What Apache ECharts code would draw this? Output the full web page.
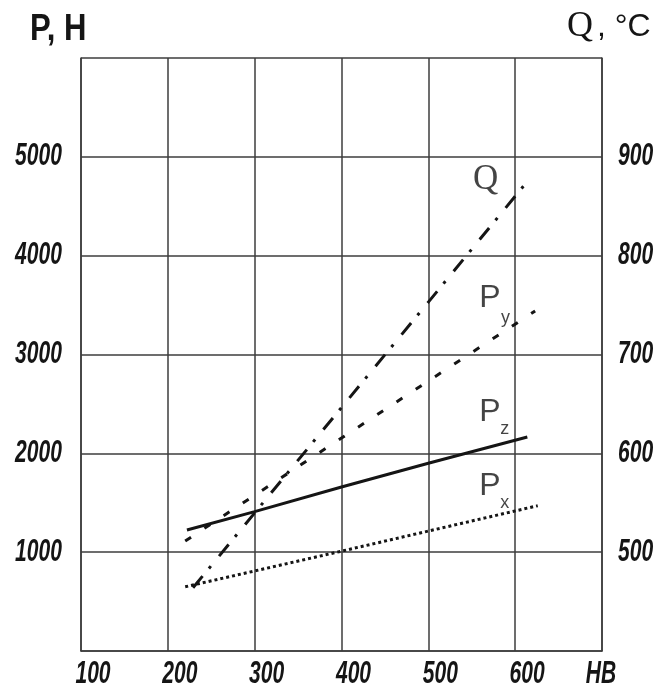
<!DOCTYPE html>
<html>
<head>
<meta charset="utf-8">
<script src="https://cdn.jsdelivr.net/npm/echarts@6/dist/echarts.min.js"></script>
<style>
html,body{margin:0;padding:0;background:#fff;}
#chart{width:654px;height:688px;}
</style>
</head>
<body>
<div id="chart"></div>
<script>
// ---- data ----
const xTicks = [100, 200, 300, 400, 500, 600, 700];
const xTickLabels = ['100', '200', '300', '400', '500', '600', 'HB'];
const pTicks = [1000, 2000, 3000, 4000, 5000];
const pTickLabels = ['1000', '2000', '3000', '4000', '5000'];
const qTicks = [500, 600, 700, 800, 900];
const qTickLabels = ['500', '600', '700', '800', '900'];

// P (N) vs HB
const pzData = [[222, 1225], [300, 1410], [400, 1660], [500, 1900], [614, 2165]];
const pyData = [[220, 1113], [400, 2155], [623, 3440]];
const pxData = [[220, 650], [400, 1010], [626, 1470]];
// Q (°C) vs HB
const qData = [[229, 464], [500, 753], [612, 873]];

// annotation labels [HB, P, text, kind]
const annotations = [
  [566, 4766, 'Q', 'serif'],
  [571, 3572, 'P', 'main'], [589, 3369, 'y', 'sub'],
  [571, 2418, 'P', 'main'], [588, 2246, 'z', 'sub'],
  [571, 1670, 'P', 'main'], [588, 1497, 'x', 'sub']
];

const sans = "'Liberation Sans', Arial, sans-serif";
const serif = "'Liberation Serif', 'Times New Roman', serif";
const tickFontCss = "italic bold 31px " + sans;
const tickScale = 0.68;
const gridColor = '#3c3c3c';
const ink = '#151515';

const chart = echarts.init(document.getElementById('chart'), null, {renderer: 'canvas'});

const kindStyle = {
  serif: {fontFamily: serif, fontSize: 35},
  main: {fontFamily: sans, fontSize: 32},
  sub: {fontFamily: sans, fontSize: 18}
};

const axisLineStyle = {color: gridColor, width: 1.5};

const option = {
  animation: false,
  backgroundColor: '#fff',
  grid: {left: 81, right: 52, top: 58, bottom: 37, containLabel: false, outerBoundsMode: 'none'},
  xAxis: {
    type: 'value', min: 100, max: 700, interval: 100,
    axisLine: {show: true, lineStyle: axisLineStyle},
    axisTick: {show: false},
    splitLine: {show: true, lineStyle: axisLineStyle},
    axisLabel: {show: false}
  },
  yAxis: [
    {
      type: 'value', min: 0, max: 6000, interval: 1000, position: 'left',
      axisLine: {show: true, lineStyle: axisLineStyle},
      axisTick: {show: false},
      splitLine: {show: true, lineStyle: axisLineStyle},
      axisLabel: {show: false}
    },
    {
      type: 'value', min: 400, max: 1000, interval: 100, position: 'right',
      axisLine: {show: true, lineStyle: axisLineStyle},
      axisTick: {show: false},
      splitLine: {show: false},
      axisLabel: {show: false}
    }
  ],
  series: [
    {name: 'Pz', type: 'line', data: pzData, yAxisIndex: 0, showSymbol: false, symbol: 'none',
      lineStyle: {color: ink, width: 3, type: 'solid'}},
    {name: 'Py', type: 'line', data: pyData, yAxisIndex: 0, showSymbol: false, symbol: 'none',
      lineStyle: {color: ink, width: 3, type: [7, 16]}},
    {name: 'Px', type: 'line', data: pxData, yAxisIndex: 0, showSymbol: false, symbol: 'none',
      lineStyle: {color: ink, width: 3, type: [3, 3]}},
    {name: 'Q', type: 'line', data: qData, yAxisIndex: 1, showSymbol: false, symbol: 'none',
      lineStyle: {color: ink, width: 3, type: [15, 10, 3, 13]}},
    {name: 'labels', type: 'scatter', yAxisIndex: 0, symbolSize: 0, silent: true,
      data: annotations.map(a => ({
        value: [a[0], a[1]],
        label: Object.assign({show: true, position: 'inside', formatter: a[2], color: ink,
          align: 'center', verticalAlign: 'middle'}, kindStyle[a[3]])
      }))}
  ]
};
chart.setOption(option);

// condensed tick labels, positioned through the axes' own scales
function tickText(x, y, text, align) {
  return {
    type: 'text', x: x, y: y, scaleX: tickScale, silent: true,
    style: {text: text, fill: ink, font: tickFontCss, align: align, verticalAlign: 'middle',
      textAlign: align, textVerticalAlign: 'middle'}
  };
}
const g = [];
const yBottom = chart.convertToPixel({yAxisIndex: 0}, 0);
xTicks.forEach((v, i) => {
  const px = chart.convertToPixel({xAxisIndex: 0}, v);
  const t = xTickLabels[i];
  const dx = t === 'HB' ? -1 : 12;
  g.push(tickText(px + dx, yBottom + 23, t, 'center'));
});
const xLeft = chart.convertToPixel({xAxisIndex: 0}, 100);
const xRight = chart.convertToPixel({xAxisIndex: 0}, 700);
pTicks.forEach((v, i) => {
  g.push(tickText(xLeft - 19, chart.convertToPixel({yAxisIndex: 0}, v), pTickLabels[i], 'right'));
});
qTicks.forEach((v, i) => {
  g.push(tickText(xRight + 16, chart.convertToPixel({yAxisIndex: 1}, v), qTickLabels[i], 'left'));
});
// axis titles
g.push({type: 'text', x: 30, y: 30, scaleX: 0.84, silent: true,
  style: {text: 'P, H', fill: ink, font: "bold 37px " + sans, align: 'left', verticalAlign: 'middle',
    textAlign: 'left', textVerticalAlign: 'middle'}});
g.push({type: 'text', x: 567, y: 27, silent: true,
  style: {text: 'Q', fill: ink, font: "36px " + serif, align: 'left', verticalAlign: 'middle',
    textAlign: 'left', textVerticalAlign: 'middle'}});
g.push({type: 'text', x: 597, y: 27, silent: true,
  style: {text: ', °C', fill: ink, font: "32px " + sans, align: 'left', verticalAlign: 'middle',
    textAlign: 'left', textVerticalAlign: 'middle'}});
chart.setOption({graphic: g});
</script>
</body>
</html>
